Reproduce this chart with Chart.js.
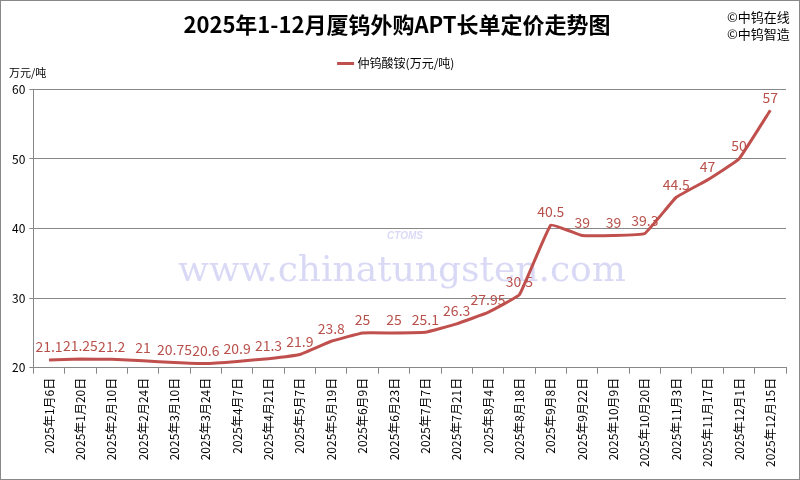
<!DOCTYPE html>
<html>
<head>
<meta charset="utf-8">
<script src="https://cdn.jsdelivr.net/npm/chart.js@4"></script>
<style>
  html, body { margin: 0; padding: 0; background: #fff; }
  #wrap { width: 800px; height: 480px; position: relative; }
</style>
</head>
<body>
<div id="wrap"><canvas id="aptChart" width="800" height="480"></canvas></div>
<script>
// data
const dates = [
  '2025年1月6日', '2025年1月20日', '2025年2月10日', '2025年2月24日',
  '2025年3月10日', '2025年3月24日', '2025年4月7日', '2025年4月21日',
  '2025年5月7日', '2025年5月19日', '2025年6月9日', '2025年6月23日',
  '2025年7月7日', '2025年7月21日', '2025年8月4日', '2025年8月18日',
  '2025年9月8日', '2025年9月22日', '2025年10月9日', '2025年10月20日',
  '2025年11月3日', '2025年11月17日', '2025年12月1日', '2025年12月15日'
];
const aptPrices = [
  21.1, 21.25, 21.2, 21, 20.75, 20.6, 20.9, 21.3,
  21.9, 23.8, 25, 25, 25.1, 26.3, 27.95, 30.5,
  40.5, 39, 39, 39.3, 44.5, 47, 50, 57
];
const yMin = 20;
const yMax = 60;
const yStep = 10;

const lineColor = '#c0504d';
const cjk = '"Noto Sans CJK SC", "Noto Sans", sans-serif';

// leave some room under the legend (for the unit text)
const legendGap = {
  id: 'legendGap',
  beforeUpdate(chart) {
    const lg = chart.legend;
    if (lg && !lg._gapPatched) {
      const fit = lg.fit;
      lg.fit = function () {
        fit.call(this);
        this.height += 10;
      };
      lg._gapPatched = true;
    }
  }
};

// extra text, frame and watermark
const decor = {
  id: 'decor',
  beforeDatasetsDraw(chart) {
    const ctx = chart.ctx;
    ctx.save();
    ctx.fillStyle = 'rgba(170, 170, 235, 0.45)';
    ctx.font = '36px "DejaVu Serif", "Liberation Serif", serif';
    ctx.textAlign = 'center';
    ctx.textBaseline = 'middle';
    ctx.fillText('www.chinatungsten.com', 402, 272);
    ctx.font = 'bold italic 10px sans-serif';
    ctx.fillText('CTOMS', 405, 236);
    ctx.restore();
  },
  afterDraw(chart) {
    const ctx = chart.ctx;
    ctx.save();
    ctx.fillStyle = '#000';
    ctx.font = '11px ' + cjk;
    ctx.textAlign = 'left';
    ctx.textBaseline = 'middle';
    ctx.fillText('万元/吨', 9, 73);
    ctx.font = '13px ' + cjk;
    ctx.fillText('©中钨在线', 727, 17);
    ctx.fillText('©中钨智造', 727, 34);
    ctx.strokeStyle = '#888';
    ctx.lineWidth = 1;
    ctx.strokeRect(0.5, 0.5, 799, 479);
    ctx.restore();
  }
};

// value labels above each point
const valueLabels = {
  id: 'valueLabels',
  afterDatasetsDraw(chart) {
    const ctx = chart.ctx;
    const meta = chart.getDatasetMeta(0);
    ctx.save();
    ctx.fillStyle = '#b8504b';
    ctx.font = '14px ' + cjk;
    ctx.textAlign = 'center';
    ctx.textBaseline = 'bottom';
    meta.data.forEach((pt, i) => {
      ctx.fillText(String(aptPrices[i]), pt.x, pt.y - 6);
    });
    ctx.restore();
  }
};

const ctx = document.getElementById('aptChart').getContext('2d');
new Chart(ctx, {
  type: 'line',
  data: {
    labels: dates,
    datasets: [{
      label: '仲钨酸铵(万元/吨)',
      data: aptPrices,
      borderColor: lineColor,
      backgroundColor: lineColor,
      borderWidth: 3,
      pointRadius: 0,
      tension: 0.08,
      fill: false
    }]
  },
  options: {
    responsive: false,
    animation: false,
    layout: { padding: { left: 8, right: 14, top: 0, bottom: 9 } },
    plugins: {
      title: {
        display: true,
        text: '2025年1-12月厦钨外购APT长单定价走势图',
        color: '#000',
        font: { family: cjk, size: 22, weight: 'bold' },
        padding: { top: 11, bottom: 12 }
      },
      legend: {
        display: true,
        labels: {
          color: '#000',
          font: { family: cjk, size: 12 },
          usePointStyle: true,
          pointStyle: 'line',
          boxWidth: 30,
          padding: 8
        }
      },
      tooltip: { enabled: false }
    },
    scales: {
      x: {
        offset: true,
        grid: {
          offset: true,
          drawOnChartArea: false,
          drawTicks: true,
          tickLength: 6,
          color: '#888'
        },
        border: { color: '#888' },
        ticks: {
          color: '#000',
          font: { family: cjk, size: 12 },
          minRotation: 90,
          maxRotation: 90,
          autoSkip: false,
          padding: 4
        }
      },
      y: {
        min: yMin,
        max: yMax,
        grid: {
          color: '#888',
          drawTicks: true,
          tickLength: 4
        },
        border: { color: '#888' },
        ticks: {
          stepSize: yStep,
          color: '#000',
          font: { family: cjk, size: 12 },
          padding: 4
        }
      }
    }
  },
  plugins: [legendGap, decor, valueLabels]
});
</script>
</body>
</html>
